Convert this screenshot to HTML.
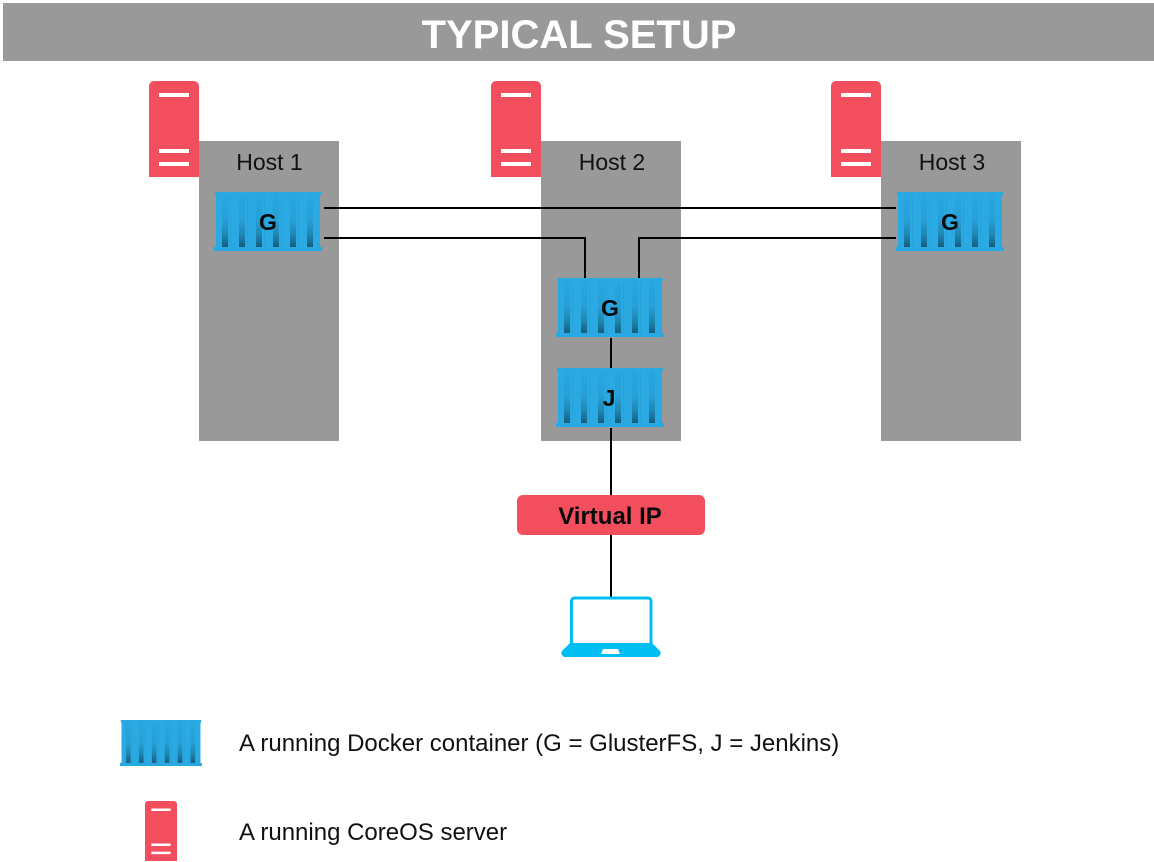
<!DOCTYPE html>
<html><head><meta charset="utf-8"><style>
html,body{margin:0;padding:0;background:#fff}
svg{display:block}
text{font-family:"Liberation Sans",sans-serif}
</style></head><body>
<svg width="1154" height="862" viewBox="0 0 1154 862" xmlns="http://www.w3.org/2000/svg">
<defs>
<linearGradient id="gr" x1="0" y1="0" x2="0" y2="1">
<stop offset="0" stop-color="#29a7de"/><stop offset="0.5" stop-color="#269fd5"/><stop offset="0.78" stop-color="#1f84af"/><stop offset="1" stop-color="#175c7c"/>
</linearGradient>
<g id="box">
<rect x="2" y="1" width="104" height="57" fill="#2aa9e2"/>
<g fill="#27a2d8">
<rect x="16" y="4" width="1" height="51"/><rect x="33" y="4" width="1" height="51"/><rect x="50" y="4" width="1" height="51"/><rect x="67" y="4" width="1" height="51"/><rect x="84" y="4" width="1" height="51"/>
</g>
<rect x="1" y="0" width="106" height="3" fill="#2aa9e0"/>
<g fill="url(#gr)">
<rect x="8" y="3" width="6" height="52"/><rect x="25" y="3" width="6" height="52"/><rect x="42" y="3" width="6" height="52"/><rect x="59" y="3" width="6" height="52"/><rect x="76" y="3" width="6" height="52"/><rect x="93" y="3" width="6" height="52"/>
</g>
<rect x="0" y="55" width="108" height="4" fill="#29a9e3"/>
</g>
<g id="srv">
<path d="M0 96V5a5 5 0 0 1 5-5H45a5 5 0 0 1 5 5V96Z" fill="#f34e5e"/>
<rect x="10" y="12" width="30" height="4" fill="#fff"/>
<rect x="10" y="68" width="30" height="4" fill="#fff"/>
<rect x="10" y="81" width="30" height="4" fill="#fff"/>
</g>
</defs>
<rect x="3" y="3" width="1151" height="58" fill="#999"/>
<text x="579" y="48" font-size="40" font-weight="bold" fill="#fff" text-anchor="middle">TYPICAL SETUP</text>

<rect x="199" y="141" width="140" height="300" fill="#999"/>
<rect x="541" y="141" width="140" height="300" fill="#999"/>
<rect x="881" y="141" width="140" height="300" fill="#999"/>

<use href="#srv" x="149" y="81"/>
<use href="#srv" x="491" y="81"/>
<use href="#srv" x="831" y="81"/>

<text x="269.500" y="170" font-size="23" fill="#111" text-anchor="middle">Host 1</text>
<text x="612" y="170" font-size="23" fill="#111" text-anchor="middle">Host 2</text>
<text x="952" y="170" font-size="23" fill="#111" text-anchor="middle">Host 3</text>

<g fill="none" stroke="#000" stroke-width="2">
<path d="M324 208H896"/>
<path d="M324 238H585V278"/>
<path d="M896 238H639V278"/>
<path d="M611 338V368"/>
<path d="M611 428V495"/>
<path d="M611 535V598"/>
</g>

<use href="#box" x="214" y="192"/>
<use href="#box" x="896" y="192"/>
<use href="#box" x="556" y="278"/>
<use href="#box" x="556" y="368"/>
<g font-size="23" font-weight="bold" fill="#0a0a0a" text-anchor="middle">
<text x="268" y="230">G</text>
<text x="950" y="230">G</text>
<text x="610" y="316">G</text>
<text x="609" y="406">J</text>
</g>

<rect x="517" y="495" width="188" height="40" rx="6" fill="#f34e5e"/>
<text x="610" y="524" font-size="24" font-weight="bold" fill="#0a0a0a" text-anchor="middle">Virtual IP</text>

<path d="M571.5 645V601a3 3 0 0 1 3-3H648a3 3 0 0 1 3 3V645" fill="none" stroke="#00bef2" stroke-width="3"/>
<path d="M570 643H652L660 651Q662 654 658 657H564Q560 654 562 651Z" fill="#00bef2"/>
<path d="M601 654L603 649H618L620 654Z" fill="#fff"/>

<g transform="translate(120,720) scale(0.759,0.78)"><use href="#box"/></g>
<g transform="translate(145,801) scale(0.64,0.625)"><use href="#srv"/></g>
<text x="239" y="751" font-size="24" fill="#111">A running Docker container (G = GlusterFS, J = Jenkins)</text>
<text x="239" y="840" font-size="24" fill="#111">A running CoreOS server</text>
</svg>
</body></html>
